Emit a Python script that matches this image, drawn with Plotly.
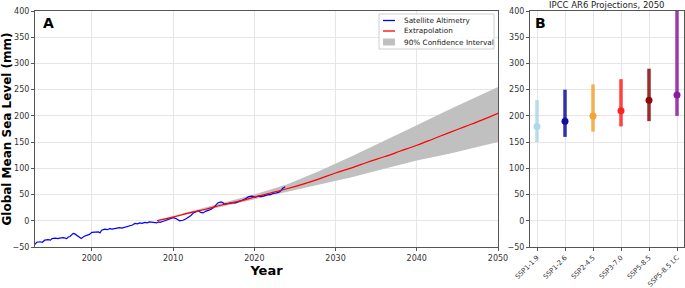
import plotly.graph_objects as go

# ---- Panel A data ----
sat_years = [1993.0, 1993.2, 1993.6, 1993.9, 1994.2, 1994.6, 1994.9, 1995.1, 1995.5, 1995.8, 1996.0, 1996.3,
             1996.5, 1996.9, 1997.1, 1997.3, 1997.5, 1997.7, 1997.9, 1998.1, 1998.4, 1998.7, 1999.0,
             1999.2, 1999.4, 1999.7, 2000.0, 2000.4, 2000.8, 2001.0, 2001.2, 2001.6, 2001.9, 2002.2,
             2002.5, 2002.8, 2003.1, 2003.4, 2003.7, 2004.1, 2004.4, 2004.7, 2005.0, 2005.3, 2005.6,
             2005.9, 2006.2, 2006.5, 2006.8, 2007.1, 2007.4, 2007.6, 2008.0, 2008.2, 2008.4, 2008.8,
             2009.1, 2009.4, 2009.7, 2010.0, 2010.2, 2010.4, 2010.8, 2011.2, 2011.6, 2011.9, 2012.2,
             2012.5, 2012.8, 2013.1, 2013.4, 2013.7, 2014.0, 2014.3, 2014.7, 2015.1, 2015.3, 2015.5,
             2015.9, 2016.1, 2016.3, 2016.6, 2016.9, 2017.3, 2017.7, 2018.1, 2018.5, 2018.9, 2019.1,
             2019.3, 2019.7, 2020.1, 2020.5, 2020.8, 2021.1, 2021.4, 2021.7, 2022.0, 2022.3, 2022.7,
             2023.1, 2023.3, 2023.5, 2023.8]
sat_gmsl = [-45, -41, -40, -41, -37, -36, -37, -34, -33, -34, -33, -32,
            -32, -34, -31, -30, -27, -24, -25, -27, -30, -34, -30,
            -29, -27, -26, -22, -22, -21, -23, -18, -16, -17, -15,
            -16, -15, -14, -13, -14, -12, -11, -9, -8, -5, -6,
            -4, -5, -3, -4, -2, -3, -3, -4, -2, -3, -1,
            1, 2, 4, 6, 5, 4, 0, 1, 4, 7, 10,
            15, 17, 19, 16, 15, 18, 20, 22, 27, 30, 34,
            36, 35, 32, 33, 33, 34, 34, 36, 39, 42, 44,
            46, 47, 45, 47, 46, 47, 49, 50, 50, 52, 53,
            55, 58, 62, 65]

ext_years = [2008, 2010, 2012, 2014, 2016, 2018, 2020, 2022, 2024, 2026, 2028,
             2030, 2032, 2034, 2036, 2038, 2040, 2042, 2044, 2046, 2048, 2050]
ext_gmsl = [0, 7, 15, 22, 30, 37, 45, 53, 61, 70, 80,
            91, 101, 112, 122, 133, 144, 156, 168, 180, 192, 205]

ci_years = [2008, 2012, 2016, 2020, 2024, 2028, 2032, 2036, 2040, 2044, 2048, 2050]
ci_upper = [1, 17, 33, 50, 69, 95, 123, 152, 182, 212, 240, 255]
ci_lower = [-1, 13, 27, 40, 55, 68, 83, 99, 115, 128, 142, 150]

legend_labels = ["Satellite Altimetry", "Extrapolation", "90% Confidence Interval"]

# ---- Panel B data ----
scenarios = ["SSP1-1.9", "SSP1-2.6", "SSP2-4.5", "SSP3-7.0", "SSP5-8.5", "SSP5-8.5 LC"]
median_2050 = [180, 190, 200, 210, 230, 240]
low_2050 = [150, 160, 170, 180, 190, 200]
high_2050 = [230, 250, 260, 270, 290, 430]
scen_colors = ["#add8e6", "#1010a0", "#f2a534", "#ff2222", "#8b0a0a", "#8b1c9c"]

W, H = 685, 288
font = "DejaVu Sans"
BAND = "rgb(192,192,192)"

fig = go.Figure()

# CI band
fig.add_trace(go.Scatter(x=ci_years, y=ci_lower, mode="lines", line=dict(width=0, color="rgba(0,0,0,0)"),
                         showlegend=False, hoverinfo="skip", xaxis="x", yaxis="y"))
fig.add_trace(go.Scatter(x=ci_years, y=ci_upper, mode="lines", fill="tonexty",
                         fillcolor=BAND, line=dict(width=0, color=BAND),
                         name=legend_labels[2], showlegend=False, xaxis="x", yaxis="y"))
fig.add_trace(go.Scatter(x=sat_years, y=sat_gmsl, mode="lines", line=dict(color="blue", width=1.2),
                         name=legend_labels[0], showlegend=False, xaxis="x", yaxis="y"))
fig.add_trace(go.Scatter(x=ext_years, y=ext_gmsl, mode="lines", line=dict(color="red", width=1.2, shape="spline"),
                         name=legend_labels[1], showlegend=False, xaxis="x", yaxis="y"))

# Panel B bars
for i, s in enumerate(scenarios):
    fig.add_trace(go.Scatter(x=[s, s], y=[low_2050[i], high_2050[i]], mode="lines",
                             line=dict(color=scen_colors[i], width=3.5), opacity=0.85,
                             showlegend=False, xaxis="x2", yaxis="y2"))
    fig.add_trace(go.Scatter(x=[s], y=[median_2050[i]], mode="markers",
                             marker=dict(color=scen_colors[i], size=7),
                             showlegend=False, xaxis="x2", yaxis="y2"))

axis_common = dict(showline=True, mirror=True, linecolor="#555555", linewidth=1,
                   gridcolor="#e6e6e6", gridwidth=1, zeroline=False, ticks="outside",
                   ticklen=3, tickcolor="#555555", automargin=False,
                   tickfont=dict(size=8, color="#333333", family=font))

y0 = 1 - 247 / H
y1 = 1 - 11 / H


def px(x):
    return x / W


def py(y):
    return 1 - y / H


# manual legend (matplotlib-style compact)
shapes = [
    dict(type="rect", xref="paper", yref="paper", x0=px(379), x1=px(494), y0=py(49), y1=py(14),
         line=dict(color="#d0d0d0", width=1), fillcolor="rgba(255,255,255,0.85)", layer="above"),
    dict(type="line", xref="paper", yref="paper", x0=px(383), x1=px(395), y0=py(20.5), y1=py(20.5),
         line=dict(color="blue", width=1.3), layer="above"),
    dict(type="line", xref="paper", yref="paper", x0=px(383), x1=px(395), y0=py(31), y1=py(31),
         line=dict(color="red", width=1.3), layer="above"),
    dict(type="rect", xref="paper", yref="paper", x0=px(383), x1=px(395), y0=py(45.5), y1=py(38.5),
         line=dict(color=BAND, width=0), fillcolor=BAND, layer="above"),
]
legend_ann = []
for lbl, yy in zip(legend_labels, [20.5, 31, 42]):
    legend_ann.append(dict(text=lbl, x=px(402), y=py(yy), xref="paper", yref="paper",
                           xanchor="left", yanchor="middle", showarrow=False,
                           font=dict(size=7.3, color="#222222", family=font)))

fig.update_layout(
    width=W, height=H,
    margin=dict(l=0, r=0, t=0, b=0),
    paper_bgcolor="white", plot_bgcolor="white",
    font=dict(family=font),
    showlegend=False,
    xaxis=dict(domain=[px(35), px(498)], range=[1993, 2050], dtick=10, tick0=2000,
               title=dict(text="<b>Year</b>", font=dict(size=13, color="black"), standoff=4),
               anchor="y", **axis_common),
    yaxis=dict(domain=[y0, y1], range=[-50, 400], dtick=50,
               title=dict(text="<b>Global Mean Sea Level (mm)</b>", font=dict(size=12, color="black"), standoff=2),
               anchor="x", **axis_common),
    xaxis2=dict(domain=[px(530), px(684)], range=[-0.25, 5.25], type="category",
                categoryorder="array", categoryarray=scenarios, tickangle=-45,
                anchor="y2", **{**axis_common, "tickfont": dict(size=6.8, color="#333333", family=font)}),
    yaxis2=dict(domain=[y0, y1], range=[-50, 400], dtick=50, anchor="x2", **axis_common),
    shapes=shapes,
    annotations=[
        dict(text="<b>A</b>", x=px(41), y=py(13), xref="paper", yref="paper",
             xanchor="left", yanchor="top", showarrow=False, font=dict(size=14, color="black")),
        dict(text="<b>B</b>", x=px(533), y=py(13), xref="paper", yref="paper",
             xanchor="left", yanchor="top", showarrow=False, font=dict(size=14, color="black")),
        dict(text="IPCC AR6 Projections, 2050", x=px(607), y=py(11.5), xref="paper", yref="paper",
             xanchor="center", yanchor="bottom", showarrow=False, font=dict(size=8.5, color="#222222")),
    ] + legend_ann,
)

fig.write_html("out.html", config={"displayModeBar": False},
               post_script="document.body.style.margin='0';document.body.style.overflow='hidden';")
